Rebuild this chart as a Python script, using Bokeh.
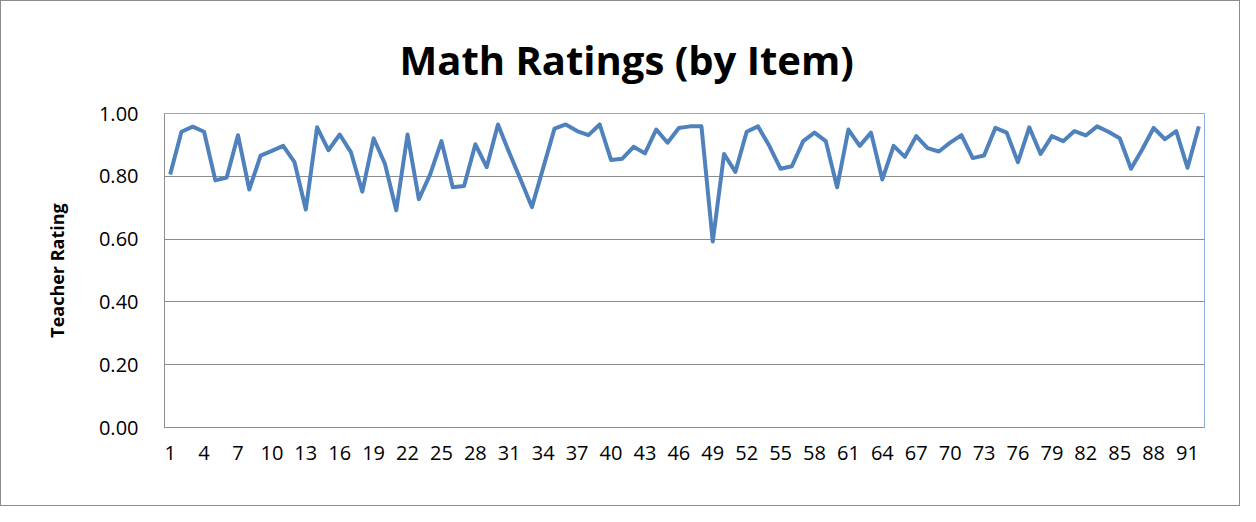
from bokeh.plotting import figure
from bokeh.models import FixedTicker, NumeralTickFormatter, Range1d, Title
from bokeh.embed import file_html
from bokeh.resources import INLINE

items = list(range(1, 93))
ratings = [
    0.806, 0.942, 0.958, 0.942, 0.787, 0.796, 0.931, 0.758, 0.866, 0.881,
    0.897, 0.845, 0.694, 0.956, 0.883, 0.933, 0.876, 0.751, 0.921, 0.840,
    0.692, 0.933, 0.727, 0.806, 0.912, 0.765, 0.769, 0.902, 0.829, 0.965,
    0.875, 0.790, 0.702, 0.827, 0.952, 0.965, 0.944, 0.931, 0.965, 0.852,
    0.856, 0.894, 0.873, 0.949, 0.907, 0.954, 0.959, 0.959, 0.592, 0.871,
    0.814, 0.942, 0.959, 0.897, 0.824, 0.832, 0.912, 0.939, 0.912, 0.765,
    0.949, 0.897, 0.939, 0.790, 0.897, 0.862, 0.928, 0.890, 0.879, 0.907,
    0.931, 0.858, 0.866, 0.954, 0.939, 0.845, 0.956, 0.871, 0.928, 0.912,
    0.944, 0.930, 0.959, 0.942, 0.921, 0.824, 0.886, 0.954, 0.918, 0.944,
    0.827, 0.959,
]
x_tick_values = list(range(1, 93, 3))
y_tick_values = [0.0, 0.2, 0.4, 0.6, 0.8, 1.0]

FONT = "Open Sans"

p = figure(
    width=1240, height=506,
    output_backend="svg", toolbar_location=None,
    x_range=Range1d(0.5, 92.5), y_range=Range1d(0, 1.0),
    min_border_left=163, min_border_right=37,
    min_border_top=112, min_border_bottom=80,
    styles={"border": "1px solid #8c8c8c"},
)
p.title = Title(text="Math Ratings (by Item)", align="left",
                text_font=FONT, text_font_size="40px", text_font_style="bold",
                text_color="#000000", offset=235, standoff=54)

p.line(items, ratings, line_color="#4F81BD", line_width=4, line_join="round")

p.outline_line_color = "#8EAADB"
p.outline_line_width = 1

p.xgrid.grid_line_color = None
p.ygrid.grid_line_color = "#8C8C8C"
p.ygrid.grid_line_width = 1
p.ygrid.ticker = FixedTicker(ticks=y_tick_values)

p.xaxis.ticker = FixedTicker(ticks=x_tick_values)
p.yaxis.ticker = FixedTicker(ticks=y_tick_values)
p.yaxis.formatter = NumeralTickFormatter(format="0.00")

for ax in (p.xaxis[0], p.yaxis[0]):
    ax.axis_line_color = "#8C8C8C"
    ax.major_tick_line_color = None
    ax.minor_tick_line_color = None
    ax.major_label_text_font = FONT
    ax.major_label_text_font_size = "20px"
    ax.major_label_text_color = "#000000"

p.xaxis.major_label_standoff = 12
p.yaxis.major_label_standoff = 20
p.yaxis.axis_label = "Teacher Rating"
p.yaxis.axis_label_text_font = FONT
p.yaxis.axis_label_text_font_size = "18px"
p.yaxis.axis_label_text_font_style = "bold"
p.yaxis.axis_label_text_color = "#000000"
p.yaxis.axis_label_standoff = 27

p.background_fill_color = "white"
p.border_fill_color = "white"

open("out.html", "w").write(file_html(p, INLINE))
